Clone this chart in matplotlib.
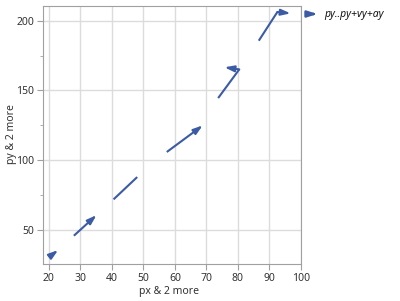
import matplotlib
matplotlib.use("Agg")
import matplotlib.pyplot as plt
from matplotlib.patches import FancyArrowPatch
from matplotlib.ticker import MultipleLocator

plt.rcParams['font.family'] = ['Noto Sans', 'DejaVu Sans']

# position, velocity and acceleration for each step
px = [20.0, 27.9, 40.5, 57.4, 73.7, 86.6]
py = [30.4, 45.7, 71.8, 105.8, 144.5, 185.7]
vx = [0.6, 5.0, 7.5, 10.0, 6.7, 5.9]
vy = [1.0, 10.3, 16.0, 16.7, 20.6, 20.6]
ax_ = [2.3, 2.2, 0.0, 1.4, -4.7, 4.2]
ay = [4.0, 4.5, 0.0, 2.4, 1.5, -1.0]

blue = '#3b5ba5'
head = '-|>,head_length=0.55,head_width=0.18'

fig = plt.figure(figsize=(4.0, 3.01), dpi=100)
ax = fig.add_axes([0.1075, 0.122, 0.645, 0.859])

for i in range(len(px)):
    x1, y1 = px[i] + vx[i], py[i] + vy[i]
    x2, y2 = x1 + ax_[i], y1 + ay[i]
    ax.plot([px[i], x1], [py[i], y1], color=blue, lw=1.5, solid_capstyle='butt')
    if ax_[i] != 0 or ay[i] != 0:
        ax.annotate('', xy=(x2, y2), xytext=(x1, y1),
                    arrowprops=dict(arrowstyle=head, color=blue, lw=1.5,
                                    shrinkA=0, shrinkB=0))

ax.set_xlim(18.1, 100)
ax.set_ylim(25.2, 210.8)
ax.xaxis.set_major_locator(MultipleLocator(10))
ax.yaxis.set_major_locator(MultipleLocator(50))
ax.yaxis.set_minor_locator(MultipleLocator(25))
ax.grid(True, which='major', color='#dcdcdc', lw=1)
ax.set_axisbelow(True)
for s in ax.spines.values():
    s.set_color('#a0a0a0')
ax.tick_params(which='both', colors='#a0a0a0', labelcolor='#333333', labelsize=7.5,
               length=4, pad=2.5)
ax.tick_params(which='minor', length=2.5)
ax.set_xlabel('px & 2 more', fontsize=7.5, color='#333333')
ax.set_ylabel('py & 2 more', fontsize=7.5, color='#333333')
ax.xaxis.set_label_coords(0.49, -0.106)
ax.yaxis.set_label_coords(-0.124, 0.504)
ax.xaxis.label.set_va('center')
ax.yaxis.label.set_va('center')

# legend
fig.patches.append(FancyArrowPatch(
    (307 / 400, 1 - 14 / 301), (320 / 400, 1 - 14 / 301), transform=fig.transFigure,
    arrowstyle=head, color=blue, lw=1.8, mutation_scale=10))
fig.text(324 / 400, 1 - 14 / 301, 'py..py+vy+ay', fontsize=7.5, style='italic',
         color='#111111', va='center', ha='left')

fig.savefig('out.png', dpi=100)
